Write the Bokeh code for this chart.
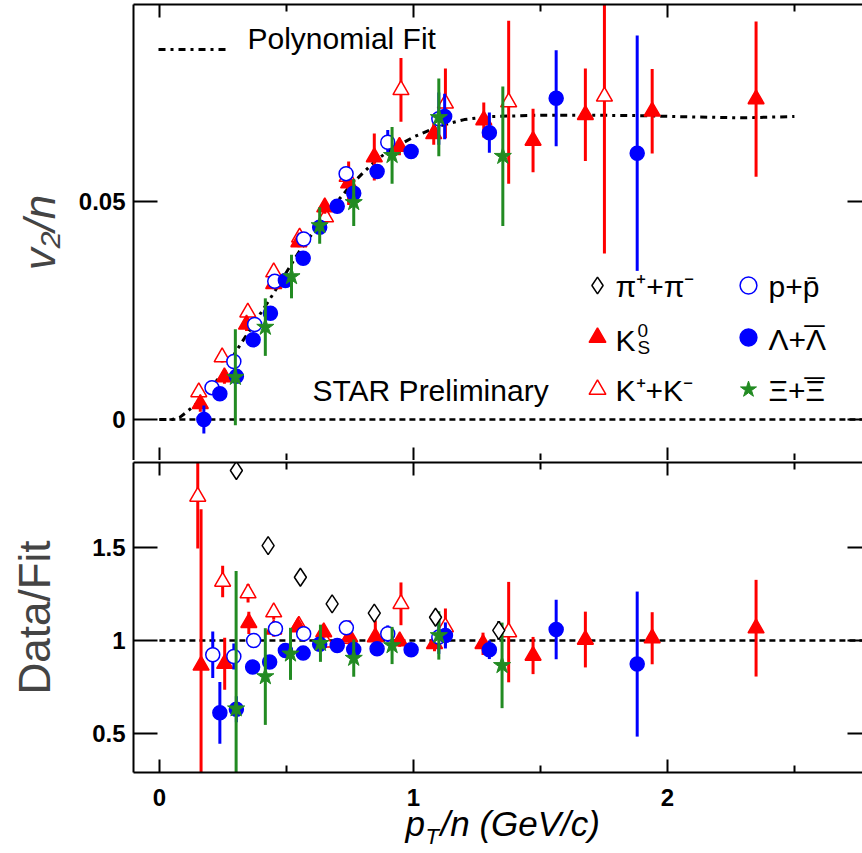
import numpy as np
from bokeh.plotting import figure
from bokeh.models import Range1d, LinearAxis, FixedTicker, Label, Legend, LegendItem
from bokeh.core.properties import value
from bokeh.layouts import column
from bokeh.embed import file_html
from bokeh.resources import INLINE

FONT = "Liberation Sans"
RED, BLUE, GREEN = "#ff0000", "#0000ff", "#228b22"

# ---------------- data ----------------
x_ticks = [0, 1, 2]
x_tick_labels = ["0", "1", "2"]
x_minor = [0.5, 1.5, 2.5]
top_yticks = [0.0, 0.05]
top_ylabels = ["0", "0.05"]
bot_yticks = [0.5, 1.0, 1.5]
bot_ylabels = ["0.5", "1", "1.5"]

ref_x = [0.0, 2.8]
top_ref_y = [0.0, 0.0]
bot_ref_y = [1.0, 1.0]

fit_x = [0.0, 0.05, 0.08, 0.10, 0.15, 0.20, 0.25, 0.30, 0.35, 0.40, 0.45, 0.50, 0.55, 0.60,
         0.65, 0.70, 0.75, 0.80, 0.85, 0.90, 1.00, 1.10, 1.20, 1.30, 1.50, 1.70, 1.90, 2.10,
         2.30, 2.50]
fit_y = [0.0, 0.0, 0.0005, 0.0014, 0.0038, 0.0073, 0.0105, 0.0155, 0.0200, 0.0245, 0.0290,
         0.0338, 0.0385, 0.0425, 0.0463, 0.0500, 0.0535, 0.0565, 0.0593, 0.0615, 0.0648,
         0.0673, 0.0688, 0.0695, 0.0698, 0.0698, 0.0697, 0.0694, 0.0692, 0.0695]

# top panel: v2/n
k0s_x = [0.161, 0.256, 0.343, 0.450, 0.549, 0.651, 0.745, 0.846, 0.945, 1.080, 1.277, 1.471, 1.677, 1.940, 2.349]
k0s_y = [0.0036, 0.0097, 0.0218, 0.0311, 0.0407, 0.0487, 0.0542, 0.0602, 0.0626, 0.0655, 0.0687, 0.0640, 0.0699, 0.0707, 0.0735]
k0s_e = [0.0018, 0.0015, 0.0015, 0.0012, 0.0012, 0.0015, 0.0050, 0.0054, 0.0020, 0.0025, 0.0040, 0.0073, 0.0106, 0.0097, 0.0178]

kk_x = [0.155, 0.247, 0.348, 0.450, 0.552, 0.654, 0.739, 0.951, 1.126, 1.375, 1.752]
kk_y = [0.0063, 0.0143, 0.0246, 0.0338, 0.0418, 0.0464, 0.0557, 0.0756, 0.0725, 0.0728, 0.0741]
kk_e = [0.0012, 0.0012, 0.0012, 0.0012, 0.0012, 0.0012, 0.0012, 0.0073, 0.0080, 0.0187, 0.0360]

p_x = [0.207, 0.293, 0.375, 0.454, 0.568, 0.735, 0.899, 1.100]
p_y = [0.0073, 0.0133, 0.0218, 0.0317, 0.0414, 0.0564, 0.0636, 0.0690]
p_e = [0.0010, 0.0010, 0.0010, 0.0010, 0.0010, 0.0010, 0.0028, 0.0060]

lam_x = [0.175, 0.238, 0.303, 0.369, 0.437, 0.496, 0.566, 0.631, 0.700, 0.765, 0.857, 0.991, 1.123, 1.299, 1.562, 1.881]
lam_y = [0.0000, 0.0059, 0.0099, 0.0183, 0.0244, 0.0319, 0.0370, 0.0441, 0.0489, 0.0519, 0.0569, 0.0615, 0.0695, 0.0658, 0.0737, 0.0611]
lam_e = [0.0032, 0.0010, 0.0010, 0.0010, 0.0010, 0.0010, 0.0010, 0.0010, 0.0010, 0.0010, 0.0010, 0.0015, 0.0052, 0.0046, 0.0110, 0.0270]

xi_x = [0.299, 0.417, 0.520, 0.631, 0.765, 0.916, 1.100, 1.352]
xi_y = [0.0097, 0.0212, 0.0328, 0.0445, 0.0498, 0.0606, 0.0693, 0.0604]
xi_e = [0.0110, 0.0066, 0.0050, 0.0042, 0.0054, 0.0065, 0.0089, 0.0160]

# bottom panel: Data/Fit
k0s_rx = [0.164, 0.257, 0.352, 0.450, 0.545, 0.647, 0.749, 0.850, 0.946, 1.083, 1.274, 1.471, 1.677, 1.940, 2.349]
k0s_r = [0.866, 0.875, 1.095, 1.060, 1.072, 1.045, 1.018, 1.018, 0.996, 0.982, 0.982, 0.919, 1.005, 1.012, 1.066]
k0s_re = [0.84, 0.14, 0.06, 0.04, 0.03, 0.03, 0.09, 0.09, 0.03, 0.04, 0.06, 0.10, 0.15, 0.14, 0.26]

kk_rx = [0.151, 0.249, 0.349, 0.450, 0.549, 0.654, 0.745, 0.951, 1.126, 1.375]
kk_r = [1.774, 1.317, 1.254, 1.152, 1.080, 0.990, 1.010, 1.197, 1.072, 1.045]
kk_re = [0.28, 0.085, 0.05, 0.04, 0.03, 0.03, 0.03, 0.115, 0.10, 0.27]

p_rx = [0.210, 0.293, 0.371, 0.457, 0.568, 0.736, 0.899, 1.100]
p_r = [0.923, 0.914, 1.000, 1.063, 1.036, 1.068, 1.036, 1.018]
p_re = [0.125, 0.07, 0.02, 0.02, 0.02, 0.02, 0.045, 0.09]

lam_rx = [0.238, 0.303, 0.367, 0.434, 0.496, 0.566, 0.631, 0.700, 0.765, 0.857, 0.991, 1.126, 1.299, 1.562, 1.881]
lam_r = [0.611, 0.630, 0.857, 0.884, 0.946, 0.932, 0.980, 0.973, 0.952, 0.955, 0.950, 1.027, 0.950, 1.059, 0.873]
lam_re = [0.166, 0.07, 0.03, 0.03, 0.02, 0.02, 0.02, 0.02, 0.02, 0.02, 0.02, 0.07, 0.05, 0.16, 0.39]

xi_rx = [0.302, 0.417, 0.516, 0.634, 0.765, 0.916, 1.100, 1.349]
xi_r = [0.633, 0.806, 0.928, 0.985, 0.905, 0.973, 1.027, 0.866]
xi_re = [0.74, 0.26, 0.14, 0.10, 0.10, 0.10, 0.13, 0.23]

pi_rx = [0.303, 0.428, 0.555, 0.680, 0.846, 1.087, 1.336]
pi_r = [1.914, 1.510, 1.340, 1.197, 1.147, 1.125, 1.054]
pi_re = [0.01, 0.01, 0.01, 0.01, 0.01, 0.02, 0.05]

# ---------------- layout ----------------
WIDTH = 862
LEFT = 133
X_RANGE = (-0.102, 2.768)


def make_fig(height, y0, y1, btop, bbottom):
    p = figure(width=WIDTH, height=height,
               x_range=Range1d(*X_RANGE), y_range=Range1d(y0, y1),
               output_backend="svg", toolbar_location=None,
               x_axis_location=None, y_axis_location=None,
               min_border_left=LEFT, min_border_right=0, min_border_top=btop,
               min_border_bottom=bbottom)
    p.outline_line_color = None
    p.grid.visible = False
    return p


def axis(ticks, labels=None, minor=(), tick_in=24, minor_in=0, line=True, standoff=8):
    ax = LinearAxis(ticker=FixedTicker(ticks=list(ticks), minor_ticks=list(minor)),
                    axis_line_width=2, axis_line_color="black",
                    major_tick_line_width=2, minor_tick_line_width=2,
                    major_tick_in=tick_in, major_tick_out=0,
                    minor_tick_in=minor_in, minor_tick_out=0,
                    major_label_text_font=FONT, major_label_text_font_style="bold",
                    major_label_text_font_size="24px", major_label_text_color="black")
    if not line:
        ax.axis_line_color = None
    if labels is None:
        # tick marks only: labels take no room and are not drawn
        ax.major_label_text_font_size = "0px"
        ax.major_label_text_alpha = 0
        ax.major_label_standoff = 0
    else:
        ax.major_label_overrides = {float(t): l for t, l in zip(ticks, labels)}
        ax.major_label_standoff = standoff
    return ax


def series(p, x, y, e, color, marker, size, fill, lw=1.5):
    x = np.asarray(x, float)
    y = np.asarray(y, float)
    e = np.asarray(e, float)
    p.segment(x0=x, y0=y - e, x1=x, y1=y + e, line_color=color, line_width=3)
    return p.scatter(x=x, y=y, marker=marker, size=size, fill_color=fill,
                     line_color=color, line_width=lw)


txt = dict(x_units="screen", y_units="screen", text_font=FONT, text_color="black",
           text_baseline="middle")

# ---- top panel ----
top = make_fig(460, -0.0094, 0.0952, 4, 0)
lax = axis(top_yticks, top_ylabels)
lax.axis_label = "v₂/n"
lax.axis_label_text_font = FONT
lax.axis_label_text_font_style = "italic"
lax.axis_label_text_font_size = "44px"
lax.axis_label_standoff = 12
top.add_layout(lax, "left")
top.add_layout(axis(top_yticks, None, tick_in=15, line=False), "right")
top.add_layout(axis(x_ticks, None, minor=x_minor, tick_in=13, minor_in=7), "above")
top.add_layout(axis(x_ticks, None, minor=x_minor, tick_in=13, minor_in=7, line=False), "below")

top.line(ref_x, top_ref_y, line_color="black", line_width=2.5, line_dash="6 4")
fit_r = top.line(fit_x, fit_y, line_color="black", line_width=3, line_dash="7 5 3 5")

kk_t = series(top, kk_x, kk_y, kk_e, RED, "triangle", 16, "white")
k0_t = series(top, k0s_x, k0s_y, k0s_e, RED, "triangle", 16, RED)
p_t = series(top, p_x, p_y, p_e, BLUE, "circle", 14, "white")
lam_t = series(top, lam_x, lam_y, lam_e, BLUE, "circle", 14, BLUE)
xi_t = series(top, xi_x, xi_y, xi_e, GREEN, "star", 18, GREEN, lw=1)
# pions are shown only in the ratio panel; this renderer just provides the legend symbol
pi_t = top.scatter(x=[np.nan], y=[np.nan], marker="diamond", size=18, fill_color="white",
                   line_color="black", line_width=1.5)

leg_kw = dict(padding=0, margin=0, spacing=0, border_line_color=None,
              background_fill_alpha=0, label_text_font=FONT, label_text_font_size="8px",
              label_height=20, label_standoff=0, label_text_color="white")
top.add_layout(Legend(items=[LegendItem(label=" ", renderers=[fit_r])],
                      location=(25, 401), glyph_width=70, glyph_height=20, **leg_kw))
top.add_layout(Legend(items=[LegendItem(label=" ", renderers=[pi_t]),
                             LegendItem(label=" ", renderers=[k0_t]),
                             LegendItem(label=" ", renderers=[kk_t])],
                      location=(443, 45), glyph_width=42, glyph_height=52, **leg_kw))
top.add_layout(Legend(items=[LegendItem(label=" ", renderers=[p_t]),
                             LegendItem(label=" ", renderers=[lam_t]),
                             LegendItem(label=" ", renderers=[xi_t])],
                      location=(594, 45), glyph_width=42, glyph_height=52, **leg_kw))

legend_texts = [
    (114, 422, "Polynomial Fit", "30px"),
    (482, 174, "π⁺+π⁻", "30px"),
    (482, 120, "K", "30px"),
    (504, 130, "0", "19px"),
    (504, 113, "S", "19px"),
    (482, 70, "K⁺+K⁻", "30px"),
    (635, 174, "p+p̄", "30px"),
    (635, 121, "Λ+Λ", "30px"),
    (635, 70, "Ξ+Ξ", "30px"),
    (179, 70, "STAR Preliminary", "30px"),
]
for sx, sy, t, fs in legend_texts:
    top.add_layout(Label(x=sx, y=sy, text=t, text_font_size=fs, **txt))
for sy in (120, 68):
    top.add_layout(Label(x=681, y=sy, text="¯", text_font_size="36px", text_align="center", **txt))

# ---- bottom panel ----
bot = make_fig(314, 0.29, 1.957, 2, 2)
blax = axis(bot_yticks, bot_ylabels)
blax.axis_label = "Data/Fit"
blax.axis_label_text_font = FONT
blax.axis_label_text_font_style = "normal"
blax.axis_label_text_font_size = "44px"
blax.axis_label_standoff = 30
bot.add_layout(blax, "left")
bot.add_layout(axis(bot_yticks, None, tick_in=15, line=False), "right")
bot.add_layout(axis(x_ticks, None, minor=x_minor, tick_in=13, minor_in=7), "above")
bot.add_layout(axis(x_ticks, None, minor=x_minor, tick_in=13, minor_in=7), "below")

bot.line(ref_x, bot_ref_y, line_color="black", line_width=2.5, line_dash="6 4")
series(bot, kk_rx, kk_r, kk_re, RED, "triangle", 16, "white")
series(bot, k0s_rx, k0s_r, k0s_re, RED, "triangle", 16, RED)
series(bot, p_rx, p_r, p_re, BLUE, "circle", 14, "white")
series(bot, lam_rx, lam_r, lam_re, BLUE, "circle", 14, BLUE)
series(bot, xi_rx, xi_r, xi_re, GREEN, "star", 18, GREEN, lw=1)
series(bot, pi_rx, pi_r, pi_re, "black", "diamond", 18, "white")

# ---- x tick labels and x title (strip below the ratio panel, 1 unit = 1 px vertically) ----
xt = make_fig(75, 0, 75, 0, 0)
xt.text(x=x_ticks, y=[52] * len(x_ticks), text=x_tick_labels, text_align="center",
        text_baseline="middle", text_font=value(FONT), text_font_style="bold",
        text_font_size="24px", text_color="black")
xt.add_layout(Label(x=272, y=26, text="p", text_font_style="italic", text_font_size="35px", **txt))
xt.add_layout(Label(x=292, y=13, text="T", text_font_style="italic", text_font_size="22px", **txt))
xt.add_layout(Label(x=307, y=26, text="/n (GeV/c)", text_font_style="italic", text_font_size="35px", **txt))

layout = column(top, bot, xt, spacing=0)
open("out.html", "w").write(file_html(layout, INLINE))
